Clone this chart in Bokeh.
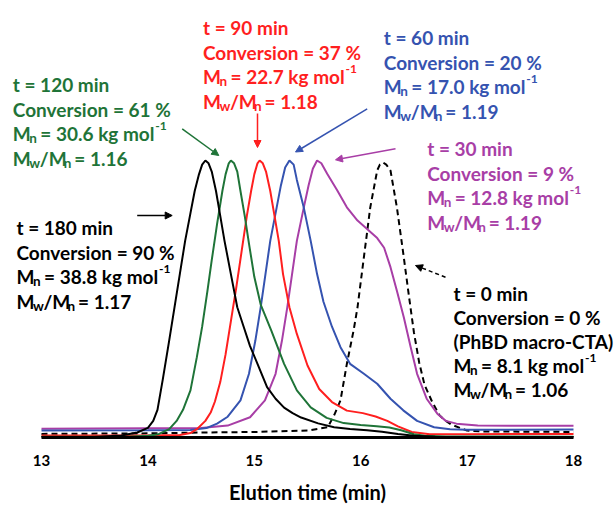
from bokeh.plotting import figure
from bokeh.models import Range1d, FixedTicker, ColumnDataSource, Arrow, NormalHead
from bokeh.core.properties import value, field
from bokeh.embed import file_html
from bokeh.resources import INLINE

# ---------------- data ----------------
tick_values = [13, 14, 15, 16, 17, 18]

t_black = [13.0, 13.5, 13.75, 13.9, 14.0, 14.05, 14.09, 14.14, 14.2, 14.25, 14.3, 14.35, 14.4, 14.44, 14.48,
           14.51, 14.54, 14.57, 14.6, 14.64, 14.68, 14.72, 14.78, 14.84, 14.9, 14.96, 15.03, 15.12, 15.2, 15.28,
           15.36, 15.44, 15.6, 15.75, 15.9, 16.06, 16.2, 16.35, 16.5, 16.7, 17.0, 18.0]
v_black = [0.002, 0.002, 0.007, 0.018, 0.035, 0.06, 0.10, 0.21, 0.35, 0.47, 0.59, 0.71, 0.81, 0.89, 0.95,
           0.985, 1.0, 0.99, 0.96, 0.89, 0.80, 0.71, 0.59, 0.47, 0.40, 0.33, 0.266, 0.182, 0.14, 0.108,
           0.088, 0.072, 0.051, 0.037, 0.031, 0.026, 0.021, 0.013, 0.006, 0.003, 0.002, 0.002]

t_green = [13.0, 13.8, 14.0, 14.1, 14.2, 14.27, 14.33, 14.4, 14.46, 14.51, 14.56, 14.6, 14.65, 14.7, 14.73,
           14.76, 14.78, 14.81, 14.84, 14.87, 14.91, 14.95, 15.0, 15.06, 15.16, 15.28, 15.4, 15.53, 15.68, 15.84,
           16.0, 16.15, 16.27, 16.38, 16.5, 16.6, 16.8, 18.0]
v_green = [0.003, 0.003, 0.006, 0.012, 0.03, 0.06, 0.10, 0.17, 0.29, 0.40, 0.53, 0.64, 0.77, 0.89, 0.95,
           0.99, 1.0, 0.99, 0.96, 0.89, 0.80, 0.70, 0.58, 0.48, 0.386, 0.266, 0.17, 0.109, 0.071, 0.052,
           0.045, 0.041, 0.036, 0.026, 0.012, 0.006, 0.004, 0.003]

t_red = [13.0, 14.0, 14.3, 14.4, 14.46, 14.54, 14.59, 14.63, 14.68, 14.73, 14.78, 14.83, 14.88, 14.93, 14.97,
         15.0, 15.03, 15.05, 15.08, 15.11, 15.15, 15.19, 15.23, 15.27, 15.33, 15.4, 15.5, 15.61, 15.73, 15.87,
         16.02, 16.14, 16.25, 16.35, 16.48, 16.65, 17.0, 18.0]
v_red = [0.007, 0.007, 0.009, 0.016, 0.03, 0.06, 0.09, 0.13, 0.20, 0.30, 0.42, 0.54, 0.67, 0.80, 0.89,
         0.95, 0.99, 1.0, 0.99, 0.96, 0.89, 0.80, 0.71, 0.59, 0.47, 0.374, 0.26, 0.175, 0.128, 0.097,
         0.088, 0.076, 0.06, 0.04, 0.02, 0.012, 0.012, 0.013]

t_blue = [13.0, 14.0, 14.4, 14.55, 14.65, 14.75, 14.87, 14.95, 15.01, 15.06, 15.105, 15.15, 15.21, 15.25, 15.29,
          15.33, 15.37, 15.4, 15.465, 15.53, 15.59, 15.65, 15.73, 15.81, 15.9, 16.03, 16.155, 16.28, 16.4, 16.53,
          16.69, 16.84, 17.0, 18.0]
v_blue = [0.025, 0.026, 0.027, 0.034, 0.05, 0.075, 0.134, 0.23, 0.35, 0.47, 0.59, 0.71, 0.83, 0.91, 0.975,
          1.0, 0.985, 0.93, 0.83, 0.71, 0.59, 0.49, 0.40, 0.326, 0.266, 0.23, 0.194, 0.14, 0.098, 0.06,
          0.037, 0.03, 0.028, 0.029]

t_purple = [13.0, 14.0, 14.5, 14.75, 14.96, 15.1, 15.2, 15.26, 15.31, 15.355, 15.4, 15.465, 15.51, 15.55, 15.59,
            15.63, 15.685, 15.78, 15.87, 15.97, 16.06, 16.155, 16.22, 16.28, 16.34, 16.405, 16.47, 16.53, 16.62,
            16.72, 16.8, 16.9, 17.1, 18.0]
v_purple = [0.032, 0.033, 0.034, 0.043, 0.073, 0.134, 0.23, 0.35, 0.47, 0.59, 0.71, 0.83, 0.91, 0.97, 1.0,
            0.99, 0.952, 0.892, 0.831, 0.783, 0.753, 0.72, 0.685, 0.615, 0.53, 0.434, 0.326, 0.23, 0.14,
            0.086, 0.06, 0.05, 0.043, 0.042]

t_dash = [13.0, 14.0, 14.5, 15.0, 15.5, 15.69, 15.75, 15.81, 15.87, 15.935, 15.97, 16.03, 16.09, 16.155, 16.18,
          16.21, 16.24, 16.28, 16.34, 16.4, 16.45, 16.5, 16.55, 16.6, 16.67, 16.74, 16.8, 16.85, 17.0, 17.15, 18.0]
v_dash = [0.013, 0.015, 0.018, 0.02, 0.025, 0.037, 0.08, 0.134, 0.266, 0.39, 0.47, 0.651, 0.831, 0.964, 0.985,
          0.993, 0.985, 0.964, 0.831, 0.665, 0.52, 0.38, 0.27, 0.19, 0.13, 0.08, 0.06, 0.047, 0.025, 0.022, 0.02]

time_labels = ["t = 180 min", "t = 120 min", "t = 90 min", "t = 60 min", "t = 30 min", "t = 0 min"]
conv_labels = ["Conversion =  90 %", "Conversion = 61 %", "Conversion = 37 %",
               "Conversion = 20 %", "Conversion = 9 %", "Conversion = 0 %"]
extra_labels = ["", "", "", "", "", "(PhBD macro-CTA)"]
mn_labels = ["38.8", "30.6", "22.7", "17.0", "12.8", "8.1"]
disp_labels = ["1.17", "1.16", "1.18", "1.19", "1.19", "1.06"]
axis_title = "Elution time (min)"

# ---------------- styles / layout (picture pixel positions) ----------------
BLACK, GREEN, RED, BLUE, PURPLE = "#000000", "#1f7438", "#ff1f1f", "#3553b0", "#a83ea6"
block_colors = [BLACK, GREEN, RED, BLUE, PURPLE, BLACK]
block_px = [(16, 227), (12.3, 84), (202.5, 27), (383.3, 37), (426.7, 148), (453, 293)]
sup_rel = [142.5, 142.5, 142.5, 142.5, 142.5, 131.5]
line_gap = [24.6, 24.6, 24.6, 24.6, 24.6, 24.0]
arrows_px = [((136.7, 215), (171.7, 215)), ((181.7, 128.3), (218.3, 155)), ((257, 113), (257, 147)),
             ((366.7, 108.3), (295, 151.5)), ((395, 148.3), (335, 159.3)), ((445, 276.7), (415, 265))]

W, H = 614, 507
PX_PER_MIN = 106.4
PX_PER_UNIT = 277.0
AX_LEFT = 41.0     # canvas x of t = 13
AX_Y = 437.0       # canvas y of signal = 0
BOTTOM = H - int(AX_Y)

def X(px):
    return 13 + (px - AX_LEFT) / PX_PER_MIN

def Y(py):
    return (AX_Y - py) / PX_PER_UNIT

x0 = X(0)
x1 = X(W)
y1 = AX_Y / PX_PER_UNIT

p = figure(width=W, height=H, x_range=Range1d(x0, x1), y_range=Range1d(0, y1),
           output_backend="svg", toolbar_location=None, y_axis_location=None,
           min_border_left=0, min_border_right=0, min_border_top=0, min_border_bottom=BOTTOM)
p.outline_line_color = None
p.xgrid.visible = False
p.ygrid.visible = False
p.background_fill_color = "white"
p.border_fill_color = "white"

ax = p.xaxis[0]
ax.bounds = (13, 18)
ax.ticker = FixedTicker(ticks=tick_values)
ax.minor_tick_line_color = None
ax.major_tick_line_color = None
ax.major_tick_out = 0
ax.major_tick_in = 0
ax.axis_line_width = 3
ax.axis_line_color = "black"
ax.major_label_text_font = "Lato"
ax.major_label_text_font_style = "bold"
ax.major_label_text_font_size = "15px"
ax.major_label_text_color = "black"
ax.major_label_standoff = 17
ax.axis_label = axis_title
ax.axis_label_text_font = "Lato"
ax.axis_label_text_font_style = "bold"
ax.axis_label_text_font_size = "20px"
ax.axis_label_text_color = "black"
ax.axis_label_standoff = 11

# curves
p.line(t_dash, v_dash, line_color=BLACK, line_width=2, line_dash="6 4")
p.line(t_purple, v_purple, line_color=PURPLE, line_width=2)
p.line(t_blue, v_blue, line_color=BLUE, line_width=2)
p.line(t_red, v_red, line_color=RED, line_width=2)
p.line(t_green, v_green, line_color=GREEN, line_width=2)
p.line(t_black, v_black, line_color=BLACK, line_width=2)

# annotation text fragments
MAIN, SUB, SUP = "19px", "13.5px", "12px"
fx, fy, ft, fs, fc = [], [], [], [], []

def add(px, py, txt, size, col):
    fx.append(X(px)); fy.append(Y(py)); ft.append(txt); fs.append(size); fc.append(col)

for i in range(6):
    L, B = block_px[i]
    g = line_gap[i]
    c = block_colors[i]
    rows = [time_labels[i], conv_labels[i]] + ([extra_labels[i]] if extra_labels[i] else [])
    for k, r in enumerate(rows):
        add(L, B + k * g, r, MAIN, c)
    yb = B + len(rows) * g
    add(L, yb, "M", MAIN, c)
    add(L + 16.5, yb + 4.5, "n", SUB, c)
    add(L + 27.5, yb, "= %s kg mol" % mn_labels[i], MAIN, c)
    add(L + sup_rel[i], yb - 7.5, "-1", SUP, c)
    yb2 = yb + g
    add(L, yb2, "M", MAIN, c)
    add(L + 16.5, yb2 + 4.5, "w", SUB, c)
    add(L + 27, yb2, "/M", MAIN, c)
    add(L + 51, yb2 + 4.5, "n", SUB, c)
    add(L + 61.5, yb2, "= " + disp_labels[i], MAIN, c)

src = ColumnDataSource(dict(x=fx, y=fy, text=ft, size=fs, color=fc))
p.text(x="x", y="y", text="text", source=src, text_font=value("Lato"), text_font_style="bold",
       text_font_size=field("size"), text_color=field("color"), text_baseline="alphabetic", text_align="left")

for i, ((sx, sy), (ex, ey)) in enumerate(arrows_px):
    c = block_colors[i]
    dash = "4 3" if i == 5 else "solid"
    p.add_layout(Arrow(x_start=X(sx), y_start=Y(sy), x_end=X(ex), y_end=Y(ey),
                       line_color=c, line_width=1.5, line_dash=dash,
                       end=NormalHead(size=7, fill_color=c, line_color=c, line_width=1)))

open("out.html", "w").write(file_html(p, INLINE))
